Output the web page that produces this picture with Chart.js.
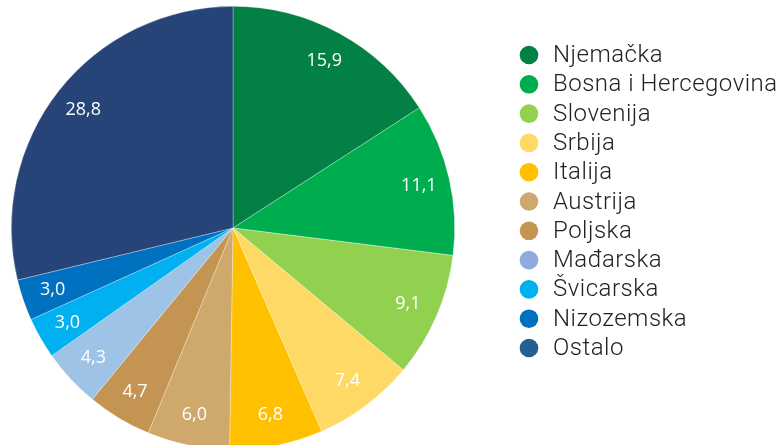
<!DOCTYPE html>
<html lang="hr">
<head>
    <meta charset="UTF-8">
    <title>Pie</title>
    <script src="https://cdn.jsdelivr.net/npm/chart.js"></script>
    <style>
        html, body { margin: 0; padding: 0; background: #fff; overflow: hidden; }
        #wrap { width: 780px; height: 456px; }
    </style>
</head>
<body>
    <div id="wrap">
        <canvas id="pieChart" width="780" height="456"></canvas>
    </div>

    <script>
        // data
        const countries = ['Njemačka', 'Bosna i Hercegovina', 'Slovenija', 'Srbija', 'Italija', 'Austrija',
            'Poljska', 'Mađarska', 'Švicarska', 'Nizozemska', 'Ostalo'];
        const shares = [15.9, 11.1, 9.1, 7.4, 6.8, 6.0, 4.7, 4.3, 3.0, 3.0, 28.8];
        const sliceColors = ['#038044', '#00AD4E', '#92D050', '#FFD966', '#FFC000', '#CFA86C',
            '#C39452', '#9DC3E6', '#00B0F0', '#0070C0', '#264478'];
        const legendColors = ['#038044', '#00AD4E', '#92D050', '#FFD966', '#FFC000', '#CFA86C',
            '#C39452', '#8FAADC', '#00B0F0', '#0070C0', '#255E91'];

        // value labels inside slices
        const sliceLabels = {
            id: 'sliceLabels',
            afterDatasetsDraw(chart) {
                const ctx = chart.ctx;
                const meta = chart.getDatasetMeta(0);
                ctx.save();
                ctx.fillStyle = '#fff';
                ctx.font = '18px "Open Sans"';
                ctx.textAlign = 'center';
                ctx.textBaseline = 'middle';
                meta.data.forEach((arc, i) => {
                    const mid = (arc.startAngle + arc.endAngle) / 2;
                    const r = arc.outerRadius * 0.86;
                    const x = arc.x + Math.cos(mid) * r;
                    const y = arc.y + Math.sin(mid) * r;
                    ctx.fillText(shares[i].toFixed(1).replace('.', ','), x, y);
                });
                ctx.restore();
            }
        };

        // legend on the right
        const sideLegend = {
            id: 'sideLegend',
            afterDraw(chart) {
                const ctx = chart.ctx;
                ctx.save();
                ctx.font = '300 24px Roboto';
                ctx.letterSpacing = '0.5px';
                ctx.textBaseline = 'middle';
                chart.data.labels.forEach((lbl, i) => {
                    const y = 55 + i * 29.3;
                    ctx.fillStyle = legendColors[i];
                    ctx.beginPath();
                    ctx.arc(529, y, 9.3, 0, Math.PI * 2);
                    ctx.fill();
                    ctx.fillStyle = '#222';
                    ctx.fillText(lbl, 553, y + 1);
                });
                ctx.restore();
            }
        };

        const ctx = document.getElementById('pieChart').getContext('2d');
        new Chart(ctx, {
            type: 'pie',
            data: {
                labels: countries,
                datasets: [{
                    data: shares,
                    backgroundColor: sliceColors,
                    borderColor: 'rgba(255,255,255,0.5)',
                    borderWidth: 0.6
                }]
            },
            options: {
                responsive: false,
                animation: false,
                layout: { padding: { left: 11, right: 325, top: 6, bottom: 6 } },
                plugins: {
                    legend: { display: false },
                    tooltip: { enabled: false }
                }
            },
            plugins: [sliceLabels, sideLegend]
        });
    </script>
</body>
</html>
